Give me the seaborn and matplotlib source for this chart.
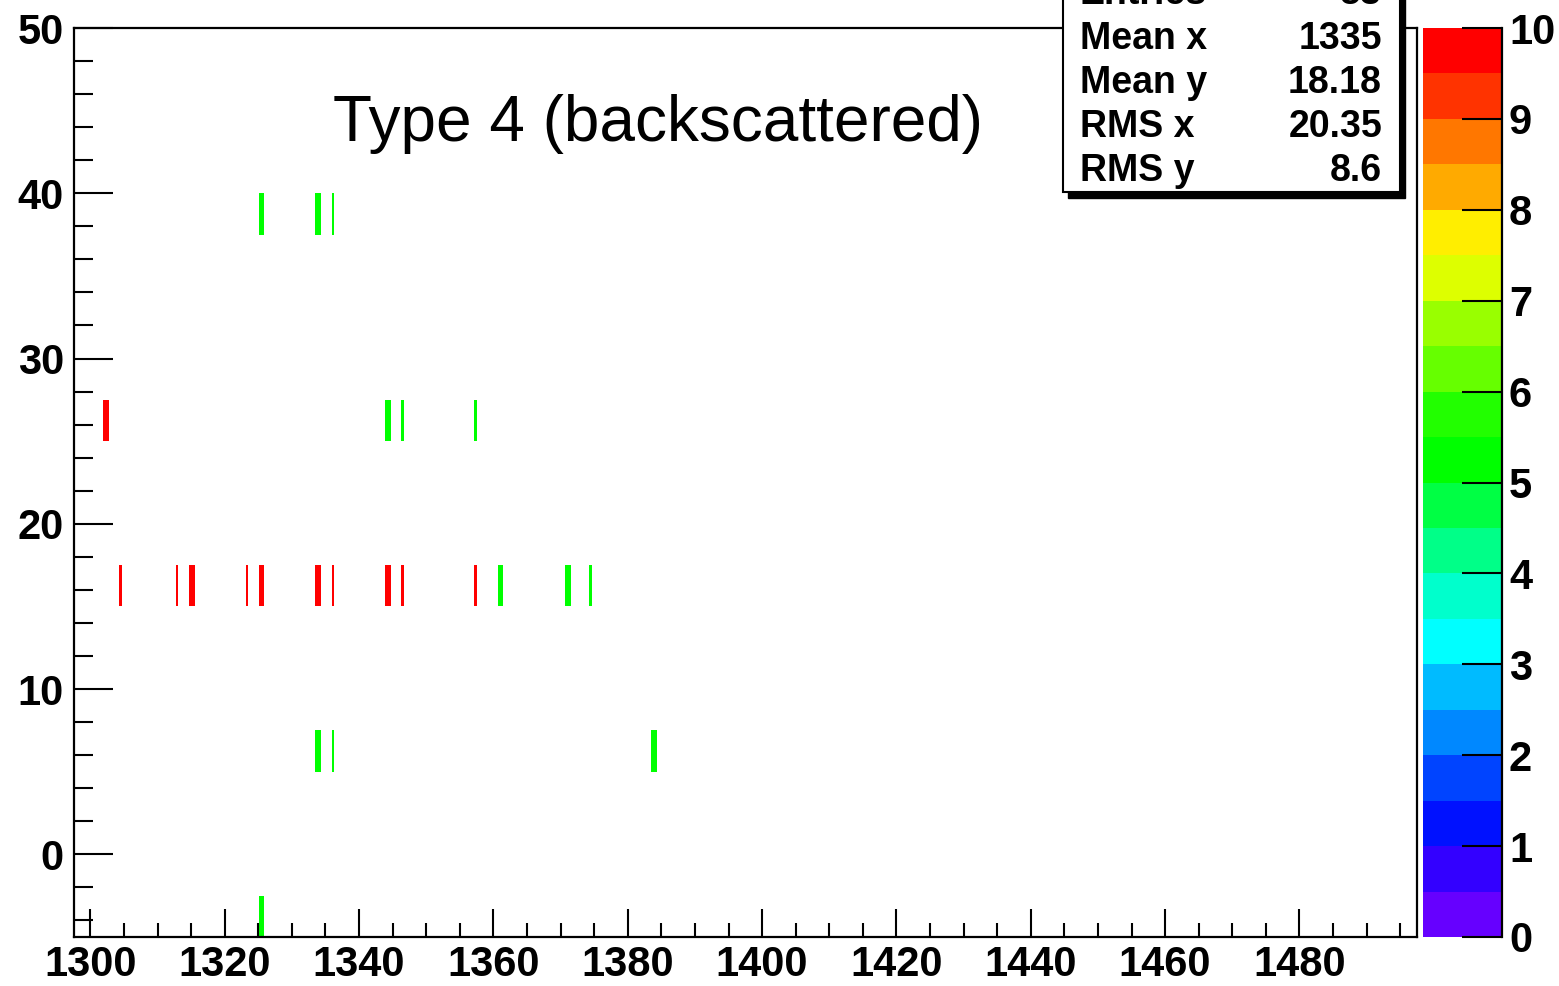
import numpy as np
import pandas as pd
import seaborn as sns
import matplotlib
matplotlib.use("Agg")
import matplotlib.pyplot as plt
from matplotlib.colors import ListedColormap
from matplotlib.patches import Rectangle
from matplotlib.ticker import MultipleLocator

# Filled bins (bin centres along x) for each y row, with bin contents
x_row_a = [1325.3, 1325.7, 1333.7, 1334.1, 1336.1]
w_row_a = [5, 5, 5, 5, 5]
x_row_b = [1302.1, 1302.5, 1344.1, 1344.5, 1346.5, 1357.3]
w_row_b = [10, 10, 5, 5, 5, 5]
x_row_c = [1304.5, 1312.9, 1314.9, 1315.3, 1323.3, 1325.3, 1325.7, 1333.7,
           1334.1, 1336.1, 1344.1, 1344.5, 1346.5, 1357.3,
           1360.9, 1361.3, 1370.9, 1371.3, 1374.5]
w_row_c = [10, 10, 10, 10, 10, 10, 10, 10, 10, 10, 10, 10, 10, 10,
           5, 5, 5, 5, 5]
x_row_d = [1333.7, 1334.1, 1336.1, 1383.7, 1384.1]
w_row_d = [5, 5, 5, 5, 5]
x_row_e = [1325.3, 1325.7]
w_row_e = [5, 5]
row_y = [38.75, 26.25, 16.25, 6.25, -3.75]

title = "Type 4 (backscattered)"
stat_names = ["Entries", "Mean x", "Mean y", "RMS x", "RMS y"]
stat_values = ["53", "1335", "18.18", "20.35", "8.6"]

# ROOT-style rainbow palette, 20 contour levels from 0 to 10
palette = ["#6600FF", "#3300FF", "#0011FF", "#0044FF", "#0088FF",
           "#00BBFF", "#00FFFF", "#00FFCC", "#00FF88", "#00FF44",
           "#00FF00", "#22FF00", "#66FF00", "#99FF00", "#DDFF00",
           "#FFEE00", "#FFAA00", "#FF7700", "#FF3300", "#FF0000"]

rows_x = [x_row_a, x_row_b, x_row_c, x_row_d, x_row_e]
rows_w = [w_row_a, w_row_b, w_row_c, w_row_d, w_row_e]
df = pd.concat(
    [pd.DataFrame({"x": xs, "y": [yv] * len(xs), "w": ws})
     for xs, ws, yv in zip(rows_x, rows_w, row_y)],
    ignore_index=True,
)

sns.set_style("ticks", rc={"text.color": "black", "xtick.color": "black",
                           "ytick.color": "black", "axes.edgecolor": "black",
                           "axes.labelcolor": "black", "axes.axisbelow": False})
plt.rcParams["font.family"] = ["Liberation Sans", "DejaVu Sans"]

W, H = 1559, 986
fig = plt.figure(figsize=(W / 100, H / 100), dpi=100)
ax_top, ax_bot = 28, 937
ax = fig.add_axes([73.6 / W, 1 - ax_bot / H, (1417 - 73.6) / W, (ax_bot - ax_top) / H])
cax = fig.add_axes([1423 / W, 1 - ax_bot / H, (1502 - 1423) / W, (ax_bot - ax_top) / H])

cmap = ListedColormap(palette)
sns.histplot(data=df, x="x", y="y", weights="w",
             bins=(500, 22), binrange=((1297.5, 1497.5), (-5, 50)),
             cmap=cmap, vmin=0, vmax=10,
             cbar=True, cbar_ax=cax, ax=ax)

ax.set_axisbelow(False)
ax.set_xlim(1297.5, 1497.5)
ax.set_ylim(-5, 50)
ax.set_xlabel("")
ax.set_ylabel("")
for sp in ax.spines.values():
    sp.set_visible(True)
    sp.set_color("black")
    sp.set_linewidth(1.6)

ax.xaxis.set_major_locator(MultipleLocator(20))
ax.xaxis.set_minor_locator(MultipleLocator(5))
ax.yaxis.set_major_locator(MultipleLocator(10))
ax.yaxis.set_minor_locator(MultipleLocator(2))
ax.tick_params(axis="x", which="major", direction="in", length=20, width=1.5,
               labelsize=30, pad=6, bottom=True, top=False, colors="black")
ax.tick_params(axis="x", which="minor", direction="in", length=10, width=1.5,
               bottom=True, top=False, colors="black")
ax.tick_params(axis="y", which="major", direction="in", length=28, width=1.5,
               labelsize=30, pad=7, left=True, right=False, colors="black")
ax.tick_params(axis="y", which="minor", direction="in", length=14, width=1.5,
               left=True, right=False, colors="black")
for lab in ax.get_xticklabels() + ax.get_yticklabels():
    lab.set_fontweight("bold")

title_baseline = 141
ax.text(0.435, (ax_bot - title_baseline) / (ax_bot - ax_top), title,
        transform=ax.transAxes, ha="center", va="baseline",
        fontsize=46, color="black")

# Colour scale
cbar = ax.collections[0].colorbar
cbar.outline.set_visible(False)
cax.set_axisbelow(False)
cax.spines["right"].set_visible(True)
cax.spines["right"].set_linewidth(1.6)
cax.spines["right"].set_color("black")
cbar.set_ticks(np.arange(0, 11, 1))
cax.yaxis.set_ticks_position("right")
cax.tick_params(axis="y", which="major", direction="in", length=29, width=1.5,
                labelsize=30, pad=5, right=True, left=False, colors="black")
cax.tick_params(axis="y", which="minor", length=0)
for lab in cax.get_yticklabels():
    lab.set_fontweight("bold")

# Statistics box with drop shadow
bx0, bx1, by1 = 1063, 1400, 192
fig.patches.append(Rectangle(((bx0 + 5) / W, 1 - (by1 + 6) / H),
                             (bx1 - bx0) / W, 0.4, transform=fig.transFigure,
                             facecolor="black", edgecolor="black", zorder=5))
fig.patches.append(Rectangle((bx0 / W, 1 - by1 / H), (bx1 - bx0) / W, 0.4,
                             transform=fig.transFigure, facecolor="white",
                             edgecolor="black", linewidth=1.5, zorder=6))
baselines = [4, 49, 93, 137, 181]
for name, val, b in zip(stat_names, stat_values, baselines):
    fig.text(1080 / W, 1 - b / H, name, ha="left", va="baseline",
             fontsize=27, fontweight="bold", zorder=7)
    fig.text(1382 / W, 1 - b / H, val, ha="right", va="baseline",
             fontsize=27, fontweight="bold", zorder=7)

fig.savefig("out.png", dpi=100, facecolor="white")
